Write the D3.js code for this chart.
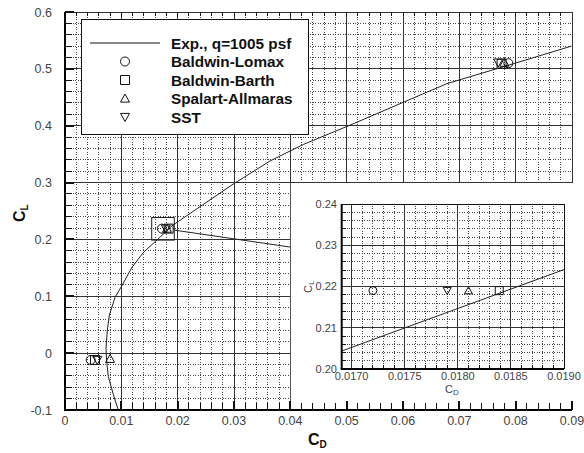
<!DOCTYPE html>
<html>
<head>
<meta charset="utf-8">
<script src="https://cdn.jsdelivr.net/npm/d3@7"></script>
<style>
  html, body { margin: 0; padding: 0; background: #fff; }
  svg { display: block; }
</style>
</head>
<body>
<svg id="chart" width="584" height="453"></svg>
<script>
// Experimental drag polar, q = 1005 psf (CD, CL pairs)
const expCD = [0.00946, 0.00858, 0.00769, 0.00740, 0.00728, 0.00750, 0.00787, 0.00888,
               0.01006, 0.01183, 0.01390, 0.01690, 0.01900, 0.02988, 0.03640, 0.04230,
               0.05060, 0.06010, 0.06780, 0.07960, 0.08990];
const expCL = [-0.100, -0.073, -0.041, -0.014, 0.009, 0.039, 0.067, 0.098,
               0.118, 0.150, 0.177, 0.2043, 0.2241, 0.2975, 0.3380, 0.367,
               0.401, 0.4414, 0.474, 0.509, 0.540];

// Turbulence-model predictions: three angles of attack each
const models = ["Baldwin-Lomax", "Baldwin-Barth", "Spalart-Allmaras", "SST"];
const modelShapes = ["circle", "square", "triangleUp", "triangleDown"];
const blCD  = [0.00456, 0.01720, 0.0787];
const blCL  = [-0.012, 0.219, 0.510];
const bbCD  = [0.00533, 0.01839, 0.0775];
const bbCL  = [-0.012, 0.219, 0.509];
const saCD  = [0.00800, 0.01810, 0.0780];
const saCL  = [-0.010, 0.219, 0.511];
const sstCD = [0.00573, 0.01790, 0.0769];
const sstCL = [-0.012, 0.219, 0.511];

const legendLabels = ["Exp., q=1005 psf", "Baldwin-Lomax", "Baldwin-Barth", "Spalart-Allmaras", "SST"];

// Axis ticks
const xTicks = [0, 0.01, 0.02, 0.03, 0.04, 0.05, 0.06, 0.07, 0.08, 0.09];
const xTickLabels = ["0", "0.01", "0.02", "0.03", "0.04", "0.05", "0.06", "0.07", "0.08", "0.09"];
const yTicks = [-0.1, 0, 0.1, 0.2, 0.3, 0.4, 0.5, 0.6];
const yTickLabels = ["-0.1", "0", "0.1", "0.2", "0.3", "0.4", "0.5", "0.6"];

// Zoomed detail around CL = 0.22
const insetXTicks = [0.0170, 0.0175, 0.0180, 0.0185, 0.0190];
const insetXTickLabels = ["0.0170", "0.0175", "0.0180", "0.0185", "0.0190"];
const insetYTicks = [0.20, 0.21, 0.22, 0.23, 0.24];
const insetYTickLabels = ["0.20", "0.21", "0.22", "0.23", "0.24"];
const zoomBoxCD = [0.01539, 0.0194];
const zoomBoxCL = [0.1988, 0.2386];
const leaderCD = [0.0194, 0.0400];
const leaderCL = [0.2164, 0.1865];

const series = [
  { cd: blCD, cl: blCL }, { cd: bbCD, cl: bbCL },
  { cd: saCD, cl: saCL }, { cd: sstCD, cl: sstCL }
];
const expPts = expCD.map((d, i) => [d, expCL[i]]);

const FONT = "'Liberation Sans', Arial, Helvetica, sans-serif";
const svg = d3.select("#chart");

const x = d3.scaleLinear().domain([0, 0.09]).range([65, 572]);
const y = d3.scaleLinear().domain([-0.1, 0.6]).range([410, 12]);

const xi = d3.scaleLinear().domain([0.016906, 0.019]).range([341.7, 564]);
const yi = d3.scaleLinear().domain([0.20, 0.24]).range([369, 204]);

function markerPath(shape, s) {
  const h = s / 2;
  if (shape === "circle") {
    return `M${h},0A${h},${h} 0 1,1 ${-h},0A${h},${h} 0 1,1 ${h},0Z`;
  }
  if (shape === "square") {
    return `M${-h},${-h}H${h}V${h}H${-h}Z`;
  }
  if (shape === "triangleUp") {
    return `M0,${-h}L${h},${h * 0.8}L${-h},${h * 0.8}Z`;
  }
  return `M0,${h}L${h},${-h * 0.8}L${-h},${-h * 0.8}Z`;
}

function drawGrid(g, xs, ys, xMinor, yMinor, xMajor, yMajor) {
  const [x0, x1] = xs.range();
  const [y0, y1] = ys.range();
  g.selectAll(null).data(xMinor).join("line")
    .attr("x1", d => xs(d)).attr("x2", d => xs(d)).attr("y1", y0).attr("y2", y1)
    .attr("stroke", "#444").attr("stroke-width", 1).attr("stroke-dasharray", "1,1.5")
    .attr("shape-rendering", "crispEdges");
  g.selectAll(null).data(yMinor).join("line")
    .attr("y1", d => ys(d)).attr("y2", d => ys(d)).attr("x1", x0).attr("x2", x1)
    .attr("stroke", "#444").attr("stroke-width", 1).attr("stroke-dasharray", "1,1.5")
    .attr("shape-rendering", "crispEdges");
  g.selectAll(null).data(xMajor).join("line")
    .attr("x1", d => xs(d)).attr("x2", d => xs(d)).attr("y1", y0).attr("y2", y1)
    .attr("stroke", "#333").attr("stroke-width", 1).attr("shape-rendering", "crispEdges");
  g.selectAll(null).data(yMajor).join("line")
    .attr("y1", d => ys(d)).attr("y2", d => ys(d)).attr("x1", x0).attr("x2", x1)
    .attr("stroke", "#333").attr("stroke-width", 1).attr("shape-rendering", "crispEdges");
}

// ---------- main plot grid ----------
const gMain = svg.append("g");
const mainXMinor = d3.range(1, 45).map(i => i * 0.002).filter(v => Math.abs(v / 0.01 - Math.round(v / 0.01)) > 1e-6);
const mainYMinor = d3.range(1, 35).map(i => -0.1 + i * 0.02).filter(v => Math.abs(v / 0.1 - Math.round(v / 0.1)) > 1e-6);
drawGrid(gMain, x, y, mainXMinor, mainYMinor, xTicks.slice(1, -1), yTicks.slice(1, -1));

// top and right frame lines
gMain.append("line").attr("x1", x(0)).attr("x2", x(0.09)).attr("y1", y(0.6)).attr("y2", y(0.6))
  .attr("stroke", "#333").attr("stroke-width", 1).attr("shape-rendering", "crispEdges");
gMain.append("line").attr("x1", x(0.09)).attr("x2", x(0.09)).attr("y1", y(0.6)).attr("y2", y(-0.1))
  .attr("stroke", "#333").attr("stroke-width", 1).attr("shape-rendering", "crispEdges");

// experimental curve
const line = d3.line().x(d => x(d[0])).y(d => y(d[1]));
gMain.append("path").datum(expPts).attr("d", line)
  .attr("fill", "none").attr("stroke", "#222").attr("stroke-width", 1);

// zoom box and leader line
gMain.append("rect")
  .attr("x", x(zoomBoxCD[0])).attr("y", y(zoomBoxCL[1]))
  .attr("width", x(zoomBoxCD[1]) - x(zoomBoxCD[0]))
  .attr("height", y(zoomBoxCL[0]) - y(zoomBoxCL[1]))
  .attr("fill", "none").attr("stroke", "#222").attr("stroke-width", 1);
gMain.append("line")
  .attr("x1", x(leaderCD[0])).attr("y1", y(leaderCL[0]))
  .attr("x2", x(leaderCD[1])).attr("y2", y(leaderCL[1]))
  .attr("stroke", "#222").attr("stroke-width", 1);

// model markers
series.forEach((s, k) => {
  gMain.selectAll(null).data(s.cd.map((d, i) => [d, s.cl[i]])).join("path")
    .attr("transform", d => `translate(${x(d[0])},${y(d[1])})`)
    .attr("d", markerPath(modelShapes[k], 9))
    .attr("fill", "none").attr("stroke", "#111").attr("stroke-width", 1);
});

// ---------- legend ----------
const gLeg = svg.append("g");
gLeg.append("rect").attr("x", 81.5).attr("y", 19.5).attr("width", 227).attr("height", 115)
  .attr("fill", "#fff").attr("stroke", "#111").attr("stroke-width", 1);
const rowY = i => 43 + i * 18.5;
gLeg.append("line").attr("x1", 90).attr("x2", 160).attr("y1", rowY(0)).attr("y2", rowY(0))
  .attr("stroke", "#111").attr("stroke-width", 1);
modelShapes.forEach((sh, k) => {
  gLeg.append("path").attr("transform", `translate(125,${rowY(k + 1)})`)
    .attr("d", markerPath(sh, 9))
    .attr("fill", "none").attr("stroke", "#111").attr("stroke-width", 1);
});
gLeg.selectAll(null).data(legendLabels).join("text")
  .attr("x", 171).attr("y", (d, i) => rowY(i)).attr("dy", "0.36em")
  .attr("font-family", FONT).attr("font-size", 15.3).attr("font-weight", "bold")
  .attr("fill", "#111").text(d => d);

// ---------- white backdrop for inset ----------
svg.append("rect").attr("x", x(0.04) + 0.5).attr("y", y(0.3) + 0.5)
  .attr("width", 584 - x(0.04)).attr("height", y(-0.1) - y(0.3) - 0.5)
  .attr("fill", "#fff");

// ---------- main axes & ticks ----------
const gAx = svg.append("g");
const xMinorAll = d3.range(1, 45).map(i => i * 0.002);
gAx.selectAll(null).data(mainXMinor).join("line")
  .attr("x1", d => x(d)).attr("x2", d => x(d)).attr("y1", y(-0.1)).attr("y2", y(-0.1) - 7)
  .attr("stroke", "#111").attr("shape-rendering", "crispEdges");
gAx.selectAll(null).data(xTicks.slice(1)).join("line")
  .attr("x1", d => x(d)).attr("x2", d => x(d)).attr("y1", y(-0.1)).attr("y2", y(-0.1) - 9)
  .attr("stroke", "#111").attr("stroke-width", 2).attr("shape-rendering", "crispEdges");
gAx.selectAll(null).data(xMinorAll).join("line")
  .attr("x1", d => x(d)).attr("x2", d => x(d)).attr("y1", y(0.6)).attr("y2", y(0.6) + 4)
  .attr("stroke", "#111").attr("shape-rendering", "crispEdges");
gAx.selectAll(null).data(mainYMinor).join("line")
  .attr("y1", d => y(d)).attr("y2", d => y(d)).attr("x1", x(0)).attr("x2", x(0) + 7)
  .attr("stroke", "#111").attr("shape-rendering", "crispEdges");
gAx.selectAll(null).data(yTicks.slice(1)).join("line")
  .attr("y1", d => y(d)).attr("y2", d => y(d)).attr("x1", x(0)).attr("x2", x(0) + 9)
  .attr("stroke", "#111").attr("stroke-width", 2).attr("shape-rendering", "crispEdges");
gAx.append("line").attr("x1", x(0)).attr("x2", x(0)).attr("y1", y(0.6)).attr("y2", y(-0.1))
  .attr("stroke", "#000").attr("stroke-width", 2);
gAx.append("line").attr("x1", x(0) - 1).attr("x2", x(0.09)).attr("y1", y(-0.1)).attr("y2", y(-0.1))
  .attr("stroke", "#000").attr("stroke-width", 2);

// tick labels
gAx.selectAll(null).data(xTicks).join("text")
  .attr("x", d => x(d)).attr("y", 425).attr("text-anchor", "middle")
  .attr("font-family", FONT).attr("font-size", 12.5).attr("fill", "#444")
  .text((d, i) => xTickLabels[i]);
gAx.selectAll(null).data(yTicks).join("text")
  .attr("x", 52).attr("y", d => y(d)).attr("dy", "0.36em").attr("text-anchor", "end")
  .attr("font-family", FONT).attr("font-size", 12.5).attr("fill", "#444")
  .text((d, i) => yTickLabels[i]);

// axis titles
const xt = gAx.append("text").attr("x", 308).attr("y", 445)
  .attr("font-family", FONT).attr("font-weight", "bold").attr("fill", "#111");
xt.append("tspan").attr("font-size", 16).text("C");
xt.append("tspan").attr("font-size", 10).attr("dy", 3).text("D");
const yt = gAx.append("text").attr("transform", "translate(25,222) rotate(-90)")
  .attr("font-family", FONT).attr("font-weight", "bold").attr("fill", "#111");
yt.append("tspan").attr("font-size", 16).text("C");
yt.append("tspan").attr("font-size", 10).attr("dy", 3).text("L");

// ---------- inset ----------
const gIn = svg.append("g");
const insetXMinor = d3.range(0, 21).map(i => 0.0169 + i * 0.0001)
  .filter(v => Math.abs((v - 0.0170) / 0.0005 - Math.round((v - 0.0170) / 0.0005)) > 1e-6 && v > 0.01691);
const insetYMinor = d3.range(1, 20).map(i => 0.20 + i * 0.002)
  .filter(v => Math.abs((v - 0.20) / 0.01 - Math.round((v - 0.20) / 0.01)) > 1e-6);
drawGrid(gIn, xi, yi, insetXMinor, insetYMinor, insetXTicks.slice(0, -1), insetYTicks.slice(1, -1));

const clip = svg.append("clipPath").attr("id", "insetClip");
clip.append("rect").attr("x", xi.range()[0]).attr("y", yi.range()[1])
  .attr("width", xi.range()[1] - xi.range()[0]).attr("height", yi.range()[0] - yi.range()[1]);
const lineIn = d3.line().x(d => xi(d[0])).y(d => yi(d[1]));
gIn.append("path").datum(expPts).attr("d", lineIn).attr("clip-path", "url(#insetClip)")
  .attr("fill", "none").attr("stroke", "#222").attr("stroke-width", 1);

series.forEach((s, k) => {
  const pts = s.cd.map((d, i) => [d, s.cl[i]])
    .filter(p => p[0] >= xi.domain()[0] && p[0] <= xi.domain()[1] && p[1] >= 0.20 && p[1] <= 0.24);
  gIn.selectAll(null).data(pts).join("path")
    .attr("transform", d => `translate(${xi(d[0])},${yi(d[1])})`)
    .attr("d", markerPath(modelShapes[k], 8))
    .attr("fill", "none").attr("stroke", "#111").attr("stroke-width", 1);
});

// inset frame
gIn.append("line").attr("x1", xi.range()[0]).attr("x2", xi.range()[1]).attr("y1", yi(0.24)).attr("y2", yi(0.24))
  .attr("stroke", "#111").attr("stroke-width", 1).attr("shape-rendering", "crispEdges");
gIn.append("line").attr("x1", xi.range()[1]).attr("x2", xi.range()[1]).attr("y1", yi(0.24)).attr("y2", yi(0.20))
  .attr("stroke", "#111").attr("stroke-width", 1).attr("shape-rendering", "crispEdges");
gIn.selectAll(null).data(insetXMinor).join("line")
  .attr("x1", d => xi(d)).attr("x2", d => xi(d)).attr("y1", yi(0.20)).attr("y2", yi(0.20) - 4)
  .attr("stroke", "#111").attr("shape-rendering", "crispEdges");
gIn.selectAll(null).data(insetYMinor).join("line")
  .attr("y1", d => yi(d)).attr("y2", d => yi(d)).attr("x1", xi.range()[0]).attr("x2", xi.range()[0] + 4)
  .attr("stroke", "#111").attr("shape-rendering", "crispEdges");
gIn.append("line").attr("x1", xi.range()[0]).attr("x2", xi.range()[0]).attr("y1", yi(0.24)).attr("y2", yi(0.20))
  .attr("stroke", "#000").attr("stroke-width", 2);
gIn.append("line").attr("x1", xi.range()[0] - 1).attr("x2", xi.range()[1]).attr("y1", yi(0.20)).attr("y2", yi(0.20))
  .attr("stroke", "#000").attr("stroke-width", 2);

gIn.selectAll(null).data(insetXTicks).join("text")
  .attr("x", d => xi(d)).attr("y", 380).attr("text-anchor", "middle")
  .attr("font-family", FONT).attr("font-size", 11).attr("fill", "#444")
  .text((d, i) => insetXTickLabels[i]);
gIn.selectAll(null).data(insetYTicks).join("text")
  .attr("x", 337).attr("y", d => yi(d)).attr("dy", "0.36em").attr("text-anchor", "end")
  .attr("font-family", FONT).attr("font-size", 11).attr("fill", "#444")
  .text((d, i) => insetYTickLabels[i]);

const xti = gIn.append("text").attr("x", 445).attr("y", 393)
  .attr("font-family", FONT).attr("fill", "#444");
xti.append("tspan").attr("font-size", 11).text("C");
xti.append("tspan").attr("font-size", 8).attr("dy", 2).text("D");
const yti = gIn.append("text").attr("transform", "translate(312,293) rotate(-90)")
  .attr("font-family", FONT).attr("fill", "#444");
yti.append("tspan").attr("font-size", 11).text("C");
yti.append("tspan").attr("font-size", 8).attr("dy", 2).text("L");
</script>
</body>
</html>
